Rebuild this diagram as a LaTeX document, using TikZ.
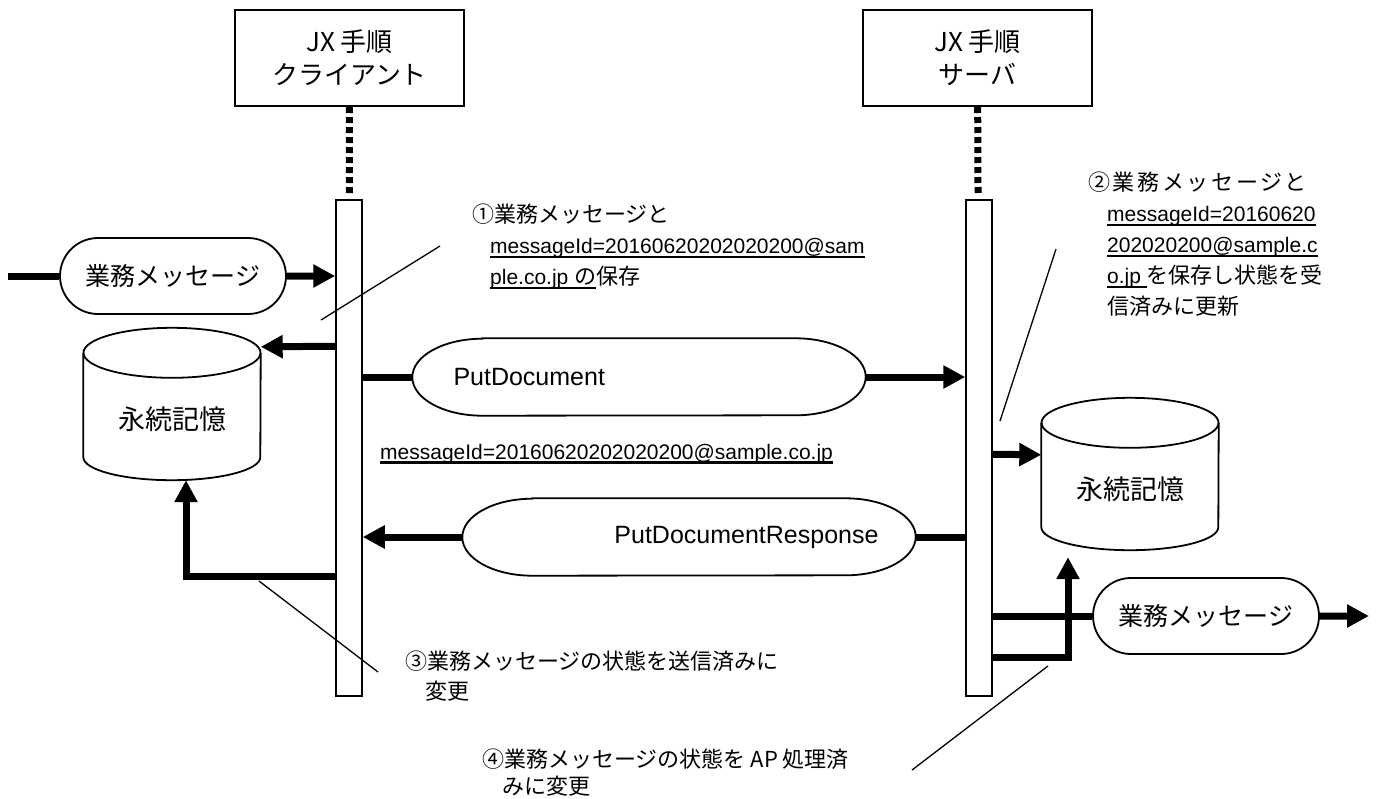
\documentclass[tikz,border=0pt]{standalone}
\usepackage{fontspec}
\setmainfont{Noto Sans CJK JP}
\newfontfamily\latin{Liberation Sans}
\newfontfamily\jpwide[LetterSpace=12]{Noto Sans CJK JP}
\usetikzlibrary{positioning,arrows.meta,shapes.misc}
\newcommand{\idfont}{\latin\fontsize{21}{31}\selectfont}
\newcommand{\idline}[1]{\setbox0=\hbox{#1}\rlap{\rule[-4.5pt]{\wd0}{2.8pt}}\box0}
\newcommand{\capsule}[2]{%
  \draw[outline] ([xshift=#2]#1.north west) -- ([xshift=-#2]#1.north east)
    arc[start angle=90,end angle=-90,x radius=#2,y radius=38.5pt]
    -- ([xshift=#2]#1.south west)
    arc[start angle=270,end angle=90,x radius=#2,y radius=38.5pt] -- cycle;}
\newcommand{\drum}[1]{%
  \draw[outline] ([yshift=-25pt]#1.north west) -- ([yshift=23pt]#1.south west)
    arc[start angle=180,end angle=360,x radius=88.5pt,y radius=23pt]
    -- ([yshift=-25pt]#1.north east);
  \draw[outline] ([yshift=-25pt]#1.north) ellipse[x radius=88.5pt,y radius=25pt];}

\begin{document}
\begin{tikzpicture}[
    x=1pt,y=-1pt,
    lifebox/.style={draw,line width=2pt,minimum width=229,minimum height=96,align=center,font=\fontsize{26}{33}\selectfont},
    lifebar/.style={draw,fill=white,line width=1.5pt,minimum width=26,minimum height=496,inner sep=0},
    lifeline/.style={line width=7pt,dash pattern=on 6pt off 4pt,shorten >=6pt},
    msgpill/.style={draw,line width=1.8pt,rounded rectangle,minimum width=226,minimum height=76,inner sep=0,font=\fontsize{25}{30}\selectfont},
    soapmsg/.style={minimum width=453,minimum height=77,inner ysep=0,font=\latin\fontsize{25}{30}\selectfont},
    store/.style={minimum width=177,minimum height=152,inner sep=0,text height=54pt,text depth=3pt,font=\fontsize{27}{32}\selectfont},
    outline/.style={line width=1.8pt},
    flow/.style={line width=7pt,-{Triangle[length=22pt,width=22pt]}},
    callout/.style={line width=1.3pt},
    note/.style={align=left,inner sep=0,anchor=north west,font=\fontsize{22}{31}\selectfont}
  ]
    \useasboundingbox (0,0) rectangle (1381,798);

    \node[lifebox] (cli) at (349.5,58) {JX 手順\\クライアント};
    \node[lifebox] (srv) at (977.5,58) {JX 手順\\サーバ};
    \node[lifebar] (clibar) at (349,448) {};
    \node[lifebar] (srvbar) at (979,448) {};
    \draw[lifeline] (cli) -- (clibar);
    \draw[lifeline] (srv) -- (srvbar);

    \node[msgpill] (inL) at (173,276) {業務メッセージ};
    \node[msgpill] (outR) at (1206,616) {業務メッセージ};
    \node[store] (lstore) at (172,404) {永続記憶};
    \node[store] (rstore) at (1130,474) {永続記憶};
    \drum{lstore}
    \drum{rstore}
    \node[soapmsg,text width=371,inner xsep=41,align=left] (put) at (639,377) {PutDocument};
    \node[soapmsg,text width=379,inner xsep=37,align=right] (resp) at (689,537) {PutDocumentResponse};
    \capsule{put}{70pt}
    \capsule{resp}{70pt}

    \coordinate (src) at (8,276);
    \coordinate (sink) at (1369,616);
    \draw[flow,-] (src) -- (inL);
    \draw[flow] (inL) -- (inL.east -| clibar.west);
    \draw[flow] ([yshift=-147pt]clibar.north west) -- ([yshift=-19pt]lstore.north east);
    \draw[flow,-] (clibar.east |- put.west) -- (put.west);
    \draw[flow] (put.east) -- (put.east -| srvbar.west);
    \draw[flow] (resp.west) -- (resp.west -| clibar.east);
    \draw[flow,-] (srvbar.west |- resp.east) -- (resp.east);
    \draw[flow] ([yshift=-377pt]clibar.north west) -| ([xshift=14pt]lstore.south);
    \draw[flow] ([yshift=-255pt]srvbar.north east) -- ([yshift=-57pt]rstore.north west);
    \draw[flow,-] (srvbar.east |- outR.west) -- (outR.west);
    \draw[flow] (outR) -- (sink);
    \draw[flow] ([yshift=-458pt]srvbar.north east) -| ([xshift=-62pt,yshift=-7pt]rstore.south);

    \node[anchor=base west,inner sep=0,font=\idfont] (msgid) at (380,459) {\idline{messageId=20160620202020200@sample.co.jp}};

    \node[note] (note1) at (472,204) {①業務メッセージと\\
      \hspace*{18pt}\idline{\idfont messageId=20160620202020200@sam}\\
      \hspace*{18pt}\idline{{\idfont ple.co.jp }の}保存};
    \node[note] (note2) at (1088,172) {{\jpwide ②業務メッセージと}\\
      \hspace*{19pt}\idline{\idfont messageId=20160620}\\
      \hspace*{19pt}\idline{\idfont 202020200@sample.c}\\
      \hspace*{19pt}\idline{\idfont o.jp }を保存し状態を受\\
      \hspace*{19pt}信済みに更新};
    \node[note,font=\fontsize{22}{30}\selectfont] (note3) at (405,651) {③業務メッセージの状態を送信済みに\\\hspace*{20pt}変更};
    \node[note,font=\fontsize{22}{27}\selectfont] (note4) at (482,749) {④業務メッセージの状態を AP 処理済\\\hspace*{20pt}みに変更};

    \coordinate (c1a) at (321,320); \coordinate (c1b) at (440,246);
    \coordinate (c2a) at (1000,421); \coordinate (c2b) at (1056,249);
    \coordinate (c3a) at (259,581); \coordinate (c3b) at (378,672);
    \coordinate (c4a) at (1048,666); \coordinate (c4b) at (912,770);
    \draw[callout] (c1a) -- (c1b);
    \draw[callout] (c2a) -- (c2b);
    \draw[callout] (c3a) -- (c3b);
    \draw[callout] (c4a) -- (c4b);
  \end{tikzpicture}
\end{document}
